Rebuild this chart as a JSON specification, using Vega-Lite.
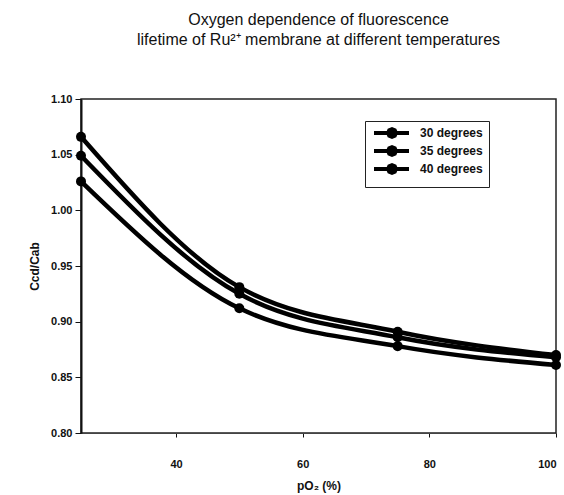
{
  "$schema": "https://vega.github.io/schema/vega-lite/v6.json",
  "width": 475,
  "height": 334,
  "autosize": {"type": "none"},
  "padding": {"left": 81, "top": 99, "right": 8, "bottom": 62},
  "background": "white",
  "title": {
    "text": ["Oxygen dependence of fluorescence", "lifetime of Ru²⁺ membrane at different temperatures"],
    "font": "Liberation Sans",
    "fontSize": 16,
    "fontWeight": "normal",
    "color": "#111",
    "anchor": "middle",
    "offset": 45,
    "lineHeight": 20
  },
  "config": {
    "view": {"stroke": "#222", "strokeWidth": 1.5},
    "axis": {
      "labelFont": "Liberation Sans",
      "labelFontWeight": "bold",
      "labelFontSize": 11,
      "labelColor": "#111",
      "titleFont": "Liberation Sans",
      "titleFontWeight": "bold",
      "titleFontSize": 12,
      "titleColor": "#111",
      "grid": false,
      "tickColor": "#111",
      "domainColor": "#111"
    }
  },
  "data": {
    "values": [
      {"series": "30 degrees", "po2": 25, "ratio": 1.066},
      {"series": "30 degrees", "po2": 50, "ratio": 0.931},
      {"series": "30 degrees", "po2": 75, "ratio": 0.891},
      {"series": "30 degrees", "po2": 100, "ratio": 0.870},
      {"series": "35 degrees", "po2": 25, "ratio": 1.049},
      {"series": "35 degrees", "po2": 50, "ratio": 0.925},
      {"series": "35 degrees", "po2": 75, "ratio": 0.886},
      {"series": "35 degrees", "po2": 100, "ratio": 0.868},
      {"series": "40 degrees", "po2": 25, "ratio": 1.026},
      {"series": "40 degrees", "po2": 50, "ratio": 0.912},
      {"series": "40 degrees", "po2": 75, "ratio": 0.878},
      {"series": "40 degrees", "po2": 100, "ratio": 0.861}
    ]
  },
  "encoding": {
    "x": {
      "field": "po2",
      "type": "quantitative",
      "scale": {"domain": [25, 100], "nice": false, "zero": false},
      "axis": {
        "title": "pO₂ (%)",
        "values": [40, 60, 80, 100],
        "tickSize": 4,
        "labelPadding": 21,
        "titlePadding": 11,
        "domainWidth": 1,
        "domainColor": "#444"
      }
    },
    "y": {
      "field": "ratio",
      "type": "quantitative",
      "scale": {"domain": [0.8, 1.1], "nice": false, "zero": false},
      "axis": {
        "title": "Ccd/Cab",
        "values": [0.8, 0.85, 0.9, 0.95, 1.0, 1.05, 1.1],
        "format": ".2f",
        "tickSize": 6,
        "labelPadding": 3,
        "titlePadding": 9,
        "domainWidth": 2
      }
    },
    "color": {
      "field": "series",
      "type": "nominal",
      "scale": {"range": ["#000", "#000", "#000"]},
      "legend": {
        "title": null,
        "orient": "none",
        "legendX": 284,
        "legendY": 22,
        "labelFont": "Liberation Sans",
        "labelFontWeight": "bold",
        "labelFontSize": 12,
        "labelColor": "#111",
        "symbolType": "M-1,0L10.67,0M6.3,0L5.92,0.92L5,1.3L4.08,0.92L3.7,0L4.08,-0.92L5,-1.3L5.92,-0.92Z",
        "symbolSize": 36,
        "symbolStrokeWidth": 4,
        "symbolFillColor": "#000",
        "symbolStrokeColor": "#000",
        "strokeColor": "#222",
        "padding": 6,
        "rowPadding": -6,
        "labelOffset": 37
      }
    }
  },
  "layer": [
    {"mark": {"type": "line", "interpolate": "monotone", "strokeWidth": 4.5, "strokeCap": "round"}},
    {"mark": {"type": "point", "filled": true, "size": 100, "opacity": 1, "shape": "circle"}}
  ]
}
